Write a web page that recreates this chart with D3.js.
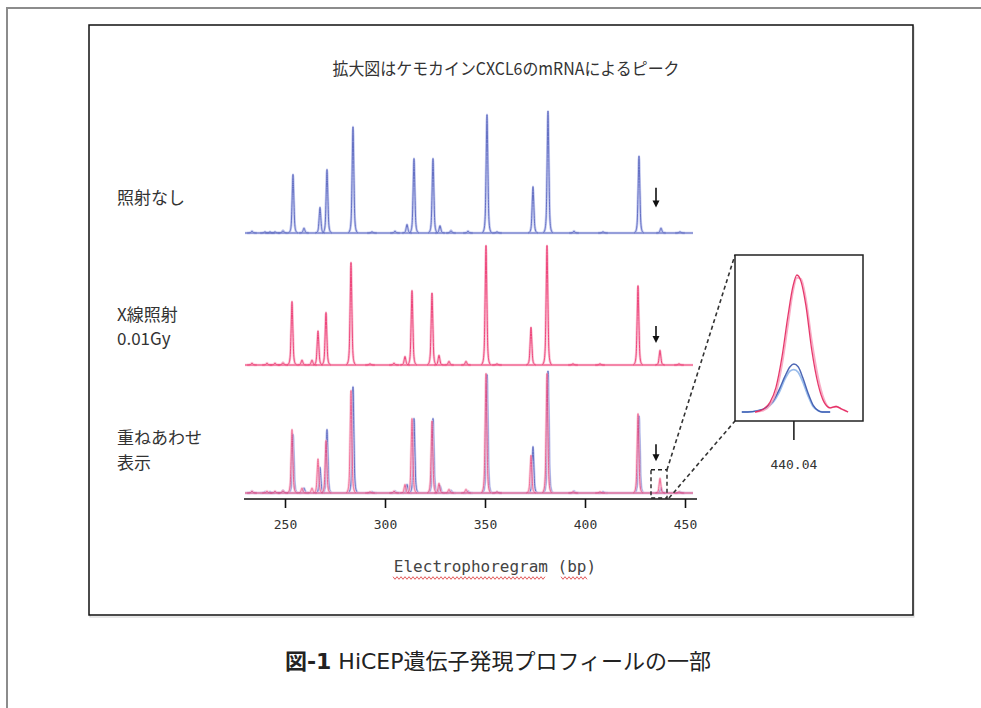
<!DOCTYPE html>
<html><head><meta charset="utf-8">
<script src="https://cdn.jsdelivr.net/npm/d3@7"></script>
<style>body{margin:0;background:#fff;overflow:hidden}</style>
</head><body><svg id="c" width="981" height="708"></svg>
<script>
// ---------- data ----------
const titleText = "拡大図はケモカインCXCL6のmRNAによるピーク";
const rowLabels = [["照射なし"], ["X線照射", "0.01Gy"], ["重ねあわせ", "表示"]];
const xTicks = [250, 300, 350, 400, 450];
const xLabel = "Electrophoregram (bp)";
const captionBold = "図-1";
const captionRest = " HiCEP遺伝子発現プロフィールの一部";

// 照射なし (blue trace): peak positions (bp) and heights (relative)
const controlPos    = [233.5, 240, 242.5, 245, 249, 254, 259.5, 267.5, 271, 284, 293.5, 305, 311, 314.5, 324, 327.5, 333, 341.5, 351, 356, 374, 381.5, 394.5, 409, 427, 438, 447.5];
const controlHeight = [1.5,   1,   1,     1,   2,   48,  4,     21,    52,  87,  1,     1.5, 7,   61,    61,  6,     2,   1.5,   97,  1,   38,  100,   1.5,   1,   63,  4,   1];
// X線照射 0.01Gy (pink trace)
const irradPos    = [233.5, 241, 245, 249, 253.5, 258.5, 263.5, 266.5, 270.5, 283, 292.5, 304.5, 310, 313.5, 323.5, 327, 332, 340.5, 350.5, 356, 373, 381, 394, 407.5, 426.5, 437.5, 447];
const irradHeight = [1.5,   1.5, 1.5, 2,   52,    4,     4,     28,    43,    84,  1,     1.5,   7,   61,    59,    8,   3,   3,     98,    1,   31,  98,  1,   1,     65,    12,    1];

const arrowBp = 435.5;               // arrow marking the CXCL6 peak
const insetTick = 440.04;
// inset: enlarged CXCL6 peak
const insetPinkBp  = [439.13, 439.32, 439.48, 439.62, 439.76, 439.90, 440.02, 440.11, 440.21, 440.32, 440.46, 440.61, 440.75, 440.89, 441.03, 441.17, 441.31];
const insetPinkA   = [0, 2, 7, 18, 40, 70, 92, 100, 95, 78, 45, 20, 7, 3, 4, 2, 0];
const insetPinkB   = [0, 1, 5, 14, 34, 63, 88, 98, 97, 83, 52, 25, 9, 3, 4, 2, 0];
const insetBlueBp  = [438.82, 438.96, 439.20, 439.39, 439.55, 439.69, 439.83, 439.95, 440.04, 440.14, 440.25, 440.37, 440.49, 440.61, 440.70, 440.89];
const insetBlueA   = [0, 0, 1, 3, 8, 16, 26, 33, 35, 33, 25, 14, 5, 1, 0, 0];
const insetBlueB   = [0, 0, 1, 3, 7, 14, 24, 30, 31, 29, 22, 12, 4, 1, 0, 0];

// ---------- drawing ----------
const svg = d3.select("#c");
const CJK = "'Noto Sans CJK JP', sans-serif";
const MONO = "'DejaVu Sans Mono', monospace";

// page frames
svg.append("path").attr("d", "M7,708V8H981").attr("fill", "none").attr("stroke", "#8c8c8c").attr("stroke-width", 2);
svg.append("rect").attr("x", 90).attr("y", 27).attr("width", 824).attr("height", 590).attr("fill", "none").attr("stroke", "#d0d0d0").attr("stroke-width", 1);
svg.append("rect").attr("x", 89).attr("y", 25).attr("width", 824).attr("height", 590).attr("fill", "#fff").attr("stroke", "#111").attr("stroke-width", 1.5);

// title
svg.append("text").attr("x", 506).attr("y", 67).attr("text-anchor", "middle").attr("dominant-baseline", "central")
  .attr("font-family", CJK).attr("font-size", 17).attr("fill", "#333")
  .attr("textLength", 347).attr("lengthAdjust", "spacingAndGlyphs").text(titleText);

// scales
const x = d3.scaleLinear().domain([229.5, 455]).range([244, 695]);
const traceDomain = [230, 454];
const rowBase = [233, 365, 493];
const rowY = rowBase.map(b => d3.scaleLinear().domain([0, 100]).range([b, b - 122]));

// peak glyph profile (bp offset, fraction of height)
const peakShape = [[-2.4, 0], [-1.5, 0.03], [-0.9, 0.14], [-0.45, 0.55], [0, 1], [0.45, 0.55], [0.9, 0.14], [1.5, 0.03], [2.4, 0]];

const styles = {
  blue: {halo: "#c6cbf0", core: "#6470c4"},
  pink: {halo: "#fac3d5", core: "#ee467b"}
};

function drawTrace(g, pos, hts, y, st, opacity) {
  const grp = g.append("g").attr("opacity", opacity);
  const line = d3.line().x(d => x(d[0])).y(d => y(d[1])).curve(d3.curveMonotoneX);
  const base = [[traceDomain[0], 0], [traceDomain[1], 0]];
  const peaks = pos.map((p, i) => peakShape.map(s => [p + s[0], hts[i] * s[1]]));
  [["halo", 2.6], ["core", 1.0]].forEach(([k, w]) => {
    grp.append("path").attr("d", line(base)).attr("fill", "none").attr("stroke", st[k]).attr("stroke-width", w);
    grp.selectAll(null).data(peaks).join("path").attr("d", line).attr("fill", "none")
      .attr("stroke", st[k]).attr("stroke-width", w).attr("stroke-linejoin", "round");
  });
}

const plot = svg.append("g");
drawTrace(plot, controlPos, controlHeight, rowY[0], styles.blue, 1);
drawTrace(plot, irradPos, irradHeight, rowY[1], styles.pink, 1);
drawTrace(plot, controlPos, controlHeight, rowY[2], styles.blue, 1);
drawTrace(plot, irradPos, irradHeight, rowY[2], styles.pink, 0.78);

// row labels
const labelY = [[196], [313, 337], [436, 461]];
rowLabels.forEach((lines, i) => {
  lines.forEach((t, j) => {
    svg.append("text").attr("x", 117).attr("y", labelY[i][j]).attr("dominant-baseline", "central")
      .attr("font-family", CJK).attr("font-size", 17).attr("fill", "#333").text(t);
  });
});

// arrows
const arrowSpan = [[37, 21], [32, 18], [40, 26]];
arrowSpan.forEach((s, i) => {
  const ax = x(arrowBp), y0 = rowY[i](s[0]), y1 = rowY[i](s[1]);
  svg.append("line").attr("x1", ax).attr("x2", ax).attr("y1", y0).attr("y2", y1 - 5).attr("stroke", "#111").attr("stroke-width", 1.6);
  svg.append("path").attr("d", `M${ax - 3.5},${y1 - 7}L${ax + 3.5},${y1 - 7}L${ax},${y1}Z`).attr("fill", "#111");
});

// x axis
const axisG = svg.append("g").attr("transform", "translate(0,499)")
  .call(d3.axisBottom(x).tickValues(xTicks).tickSize(9).tickPadding(12).tickSizeOuter(0));
axisG.select(".domain").attr("stroke", "#111").attr("stroke-width", 1.6).attr("d", "M244,0H697");
axisG.selectAll(".tick line").attr("stroke", "#111").attr("stroke-width", 1.6);
axisG.selectAll(".tick text").attr("font-family", MONO).attr("font-size", 13).attr("fill", "#333");

// x label + spellcheck squiggle
svg.append("text").attr("x", 495).attr("y", 566).attr("text-anchor", "middle").attr("dominant-baseline", "central")
  .attr("font-family", MONO).attr("font-size", 16).attr("fill", "#444").text(xLabel);
function squiggle(x0, x1, yy) {
  const pts = [];
  for (let xx = x0, k = 0; xx <= x1; xx += 2, k++) pts.push([xx, yy + (k % 2 ? 1.3 : -1.3)]);
  svg.append("path").attr("d", d3.line()(pts)).attr("fill", "none").attr("stroke", "#e04a4a").attr("stroke-width", 0.9);
}
squiggle(393, 545, 578);
squiggle(561, 588, 578);

// zoom box + connector lines
const zb = {x0: x(433), x1: x(441), y0: rowY[2](19), y1: 498};
const dash = "4,3";
svg.append("rect").attr("x", zb.x0).attr("y", zb.y0).attr("width", zb.x1 - zb.x0).attr("height", zb.y1 - zb.y0)
  .attr("fill", "none").attr("stroke", "#222").attr("stroke-width", 1.4).attr("stroke-dasharray", dash);

// inset
const ix = d3.scaleLinear().domain([438.66, 441.66]).range([735, 863]);
const iy = d3.scaleLinear().domain([0, 100]).range([412, 275]);
const inset = {x0: 735, x1: 863, y0: 255, y1: 421};
svg.append("line").attr("x1", zb.x1).attr("y1", zb.y0).attr("x2", inset.x0).attr("y2", inset.y0)
  .attr("stroke", "#333").attr("stroke-width", 1.6).attr("stroke-dasharray", dash);
svg.append("line").attr("x1", zb.x1 + 2).attr("y1", zb.y1).attr("x2", inset.x0).attr("y2", inset.y1)
  .attr("stroke", "#333").attr("stroke-width", 1.6).attr("stroke-dasharray", dash);
svg.append("rect").attr("x", inset.x0).attr("y", inset.y0).attr("width", inset.x1 - inset.x0).attr("height", inset.y1 - inset.y0)
  .attr("fill", "#fff").attr("stroke", "#222").attr("stroke-width", 1.5);
const il = d3.line().x(d => ix(d[0])).y(d => iy(d[1])).curve(d3.curveMonotoneX);
const insetSeries = [
  {bp: insetBlueBp, v: insetBlueB, c: "#8fb6ea", w: 1.8},
  {bp: insetBlueBp, v: insetBlueA, c: "#3a56ad", w: 1.4},
  {bp: insetPinkBp, v: insetPinkB, c: "#f7a4c0", w: 1.8},
  {bp: insetPinkBp, v: insetPinkA, c: "#e3245c", w: 1.3}
];
insetSeries.forEach(s => {
  svg.append("path").attr("d", il(s.bp.map((b, i) => [b, s.v[i]]))).attr("fill", "none")
    .attr("stroke", s.c).attr("stroke-width", s.w).attr("opacity", 0.9);
});
svg.append("line").attr("x1", ix(insetTick)).attr("x2", ix(insetTick)).attr("y1", inset.y1).attr("y2", inset.y1 + 19)
  .attr("stroke", "#222").attr("stroke-width", 1.6);
svg.append("text").attr("x", ix(insetTick)).attr("y", 464).attr("text-anchor", "middle").attr("dominant-baseline", "central")
  .attr("font-family", MONO).attr("font-size", 13).attr("fill", "#333").text(insetTick.toFixed(2));

// caption
const cap = svg.append("text").attr("x", 498).attr("y", 661).attr("text-anchor", "middle").attr("dominant-baseline", "central")
  .attr("font-family", "'DejaVu Sans', " + CJK).attr("font-size", 22).attr("fill", "#222");
cap.append("tspan").attr("font-weight", "bold").text(captionBold);
cap.append("tspan").text(captionRest);
</script></body></html>
